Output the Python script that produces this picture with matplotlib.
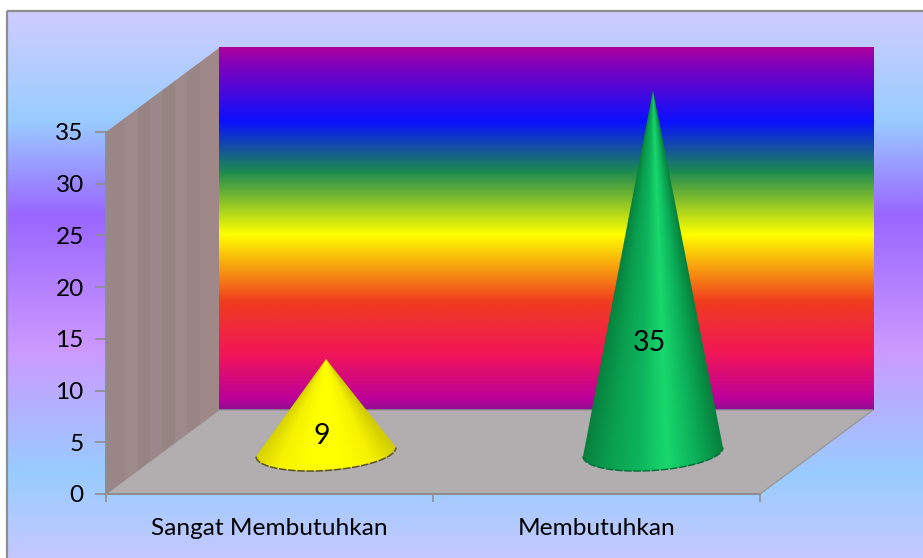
import numpy as np
import matplotlib
matplotlib.use('Agg')
import matplotlib.pyplot as plt
from matplotlib.colors import LinearSegmentedColormap
from matplotlib.patches import Polygon, Rectangle

plt.rcParams['font.family'] = ['Lato', 'DejaVu Sans']

categories = ['Sangat Membutuhkan', 'Membutuhkan']
values = [9, 35]
yticks = [0, 5, 10, 15, 20, 25, 30, 35]
# colour across each cone, left silhouette to right silhouette
cone_shades = [
    ['#d2cc00', '#f6f200', '#ffff00', '#ffff00', '#f6f200', '#d2cc00'],
    ['#07803c', '#0a9f4f', '#0db45c', '#18d86c', '#0cb05a', '#07803c'],
]
rim_colors = ['#5a5020', '#06703a']

W, H = 923, 558
# front plane of the 3D box, in pixels
left, right, bottom, top = 106, 760, 494, 132
depth_x, depth_y = 113, 84

def ramp(stops):
    # stops are (pixel row, colour), runs top to bottom
    lo, hi = stops[0][0], stops[-1][0]
    return LinearSegmentedColormap.from_list('r', [((p - lo) / (hi - lo), c) for p, c in stops], N=512)

bg_stops = [(11, '#cfcdff'), (120, '#99ccff'), (215, '#9966ff'), (350, '#cc99ff'),
            (473, '#99ccff'), (565, '#c8c8ff')]
wall_stops = [(48, '#b0009a'), (62, '#8a00b8'), (122, '#0a10ff'), (172, '#1c8a50'),
              (235, '#ffff00'), (302, '#f03c1e'), (356, '#f0155a'), (400, '#bb009c'), (410, '#8a1090')]
side_colors = ['#9a8686', '#9e8a8a', '#988484', '#9c888a', '#968482', '#9e8a8a', '#998585', '#a08888']

fig = plt.figure(figsize=(W / 100, H / 100), dpi=100)

# page background with its gradient and grey frame, frame runs off the right and bottom
bg = fig.add_axes([0, 0, 1, 1])
grad = np.linspace(0, 1, 512).reshape(-1, 1)
bg.imshow(grad, cmap=ramp(bg_stops), extent=[7, 930, 565, 11], aspect='auto', zorder=0)
bg.add_patch(Rectangle((7, 11), 930, 560, fill=False, ec='#8e8e8e', lw=1.6, zorder=1))
bg.set_xlim(0, W)
bg.set_ylim(H, 0)
bg.axis('off')

ax = fig.add_axes([left / W, 1 - bottom / H, (right - left) / W, (bottom - top) / H])
ax.patch.set_visible(False)
xmax = len(categories)
ymax = 35
# box depth expressed in axis units
dx = depth_x * xmax / (right - left)
dy = depth_y * ymax / (bottom - top)

# back wall
ax.imshow(grad, cmap=ramp(wall_stops), extent=[dx, xmax + dx, dy, ymax + dy], aspect='auto',
          clip_on=False, zorder=1)

# floor
ax.add_patch(Polygon([(0, 0), (xmax, 0), (xmax + dx, dy), (dx, dy)], fc='#b2aeb0', ec='#9a9898',
                     lw=1, clip_on=False, zorder=1.5))

# side wall, faintly streaked
side = ax.imshow(np.arange(len(side_colors)).reshape(1, -1),
                 cmap=LinearSegmentedColormap.from_list('s', side_colors, N=len(side_colors)),
                 extent=[0, dx, 0, ymax + dy], aspect='auto', interpolation='bilinear', zorder=1.6)
side_poly = Polygon([(0, 0), (dx, dy), (dx, ymax + dy), (0, ymax)], fc='none', ec='none', clip_on=False)
ax.add_patch(side_poly)
side.set_clip_box(fig.bbox)
side.set_clip_path(side_poly)

# cones stand half way into the box
half_w = 0.214
px_y = ymax / (bottom - top)
tilt = 4.5 * px_y
ell_h = 18.5 * px_y
for i, val in enumerate(values):
    cx = i + 0.5 + dx / 2
    base = dy / 2
    apex_y = val + base
    t = np.linspace(np.pi, 2 * np.pi, 80)
    rim_x = cx + half_w * np.cos(t)
    rim_y = base + ell_h * np.sin(t) + tilt * np.cos(t)
    outline = Polygon(np.vstack([[(cx, apex_y)], np.column_stack([rim_x, rim_y])]), closed=True,
                      fc='none', ec='none', clip_on=False, zorder=3)
    ax.add_patch(outline)
    # shading follows the cone's slant: position across the silhouette at each height
    y0 = base - ell_h - 1
    xs = np.linspace(cx - half_w * 1.1, cx + half_w * 1.1, 300)
    ys = np.linspace(y0, apex_y, 400)
    gx, gy = np.meshgrid(xs, ys)
    # slant extended below the base so the rim area stays shaded
    u = (gx - cx) / (half_w * np.maximum(apex_y - gy, 0.05) / val)
    shade = LinearSegmentedColormap.from_list('c', cone_shades[i], N=256)
    im = ax.imshow(np.clip(u * 0.5 + 0.5, 0, 1), cmap=shade, origin='lower', aspect='auto',
                   extent=[xs[0], xs[-1], y0, apex_y], vmin=0, vmax=1, zorder=2.5)
    im.set_clip_box(fig.bbox)
    im.set_clip_path(outline)
    # dark rim along the front of the base
    ax.plot(rim_x, rim_y, color=rim_colors[i], lw=1.1, ls=(0, (5, 1)), clip_on=False, zorder=3.2)
    ax.text(cx - 0.012, base - 1.6 + val * 0.346, str(val), ha='center', va='center',
            fontsize=20.5, color='black', zorder=4)

ax.set_xlim(0, xmax)
ax.set_ylim(0, ymax)

for s in ('top', 'right'):
    ax.spines[s].set_visible(False)
for s in ('left', 'bottom'):
    ax.spines[s].set_color('#8e8e8e')
    ax.spines[s].set_linewidth(1.4)
ax.set_yticks(yticks)
ax.set_xticks(range(xmax + 1))
ax.set_xticklabels([])
ax.set_xticks([i + 0.5 for i in range(xmax)], minor=True)
ax.set_xticklabels(categories, minor=True)
ax.tick_params(axis='x', which='minor', length=0, pad=17, labelsize=17.6)
ax.tick_params(axis='x', which='major', length=6, width=1.2, color='#8e8e8e')
ax.tick_params(axis='y', length=8, width=1.2, color='#8e8e8e', labelsize=17.6, pad=8)

fig.savefig('out.png', dpi=100)
